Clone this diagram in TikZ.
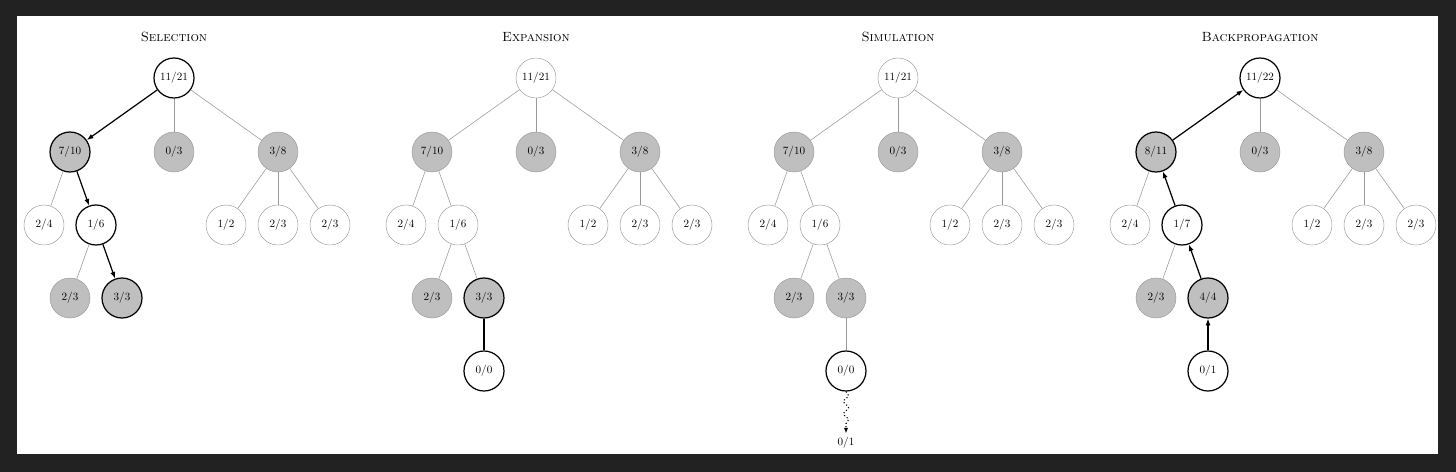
\documentclass[tikz,border=0pt]{standalone}
\usetikzlibrary{arrows.meta}
\usetikzlibrary{decorations.pathmorphing}
\definecolor{frame}{HTML}{222222}
\definecolor{nodegray}{HTML}{BFBFBF}
\definecolor{linegray}{HTML}{999999}

\begin{document}
\begin{tikzpicture}[x=0.9pt,y=-0.9pt,
    vis/.style={circle,draw=linegray,fill=white,minimum size=36pt,inner sep=0pt},
    full/.style={vis,fill=nodegray},
    hot/.style={draw=black,line width=1.1pt},
    tree/.style={linegray,line width=0.5pt},
    walk/.style={black,line width=1.1pt},
    title/.style={font=\large\scshape}]
    \fill[frame](0,0) rectangle (1456,472);
    \fill[white](17,16) rectangle (1438,454);

    % selection
    \begin{scope}[shift={(174,78)}]
    \node[title] (st) at (0,-41) {Selection};
    \node[vis,hot] (s) at (0,0) {11/21};
    \node[full,hot] (sa) at (-104,74) {7/10};
    \node[full] (sb) at (0,74) {0/3};
    \node[full] (sc) at (104,74) {3/8};
    \node[vis] (saa) at (-130,147) {2/4};
    \node[vis,hot] (sab) at (-78,147) {1/6};
    \node[vis] (sca) at (52,147) {1/2};
    \node[vis] (scb) at (104,147) {2/3};
    \node[vis] (scc) at (156,147) {2/3};
    \node[full] (saba) at (-104,220) {2/3};
    \node[full,hot] (sabb) at (-52,220) {3/3};
    \draw[walk,-{Latex[length=6pt]}](s)--(sa);
    \draw[tree](s)--(sb);
    \draw[tree](s)--(sc);
    \draw[tree](sa)--(saa);
    \draw[walk,-{Latex[length=6pt]}](sa)--(sab);
    \draw[tree](sc)--(sca);
    \draw[tree](sc)--(scb);
    \draw[tree](sc)--(scc);
    \draw[tree](sab)--(saba);
    \draw[walk,-{Latex[length=6pt]}](sab)--(sabb);
    \end{scope}

    % expansion
    \begin{scope}[shift={(536,78)}]
    \node[title] (et) at (0,-41) {Expansion};
    \node[vis] (e) at (0,0) {11/21};
    \node[full] (ea) at (-104,74) {7/10};
    \node[full] (eb) at (0,74) {0/3};
    \node[full] (ec) at (104,74) {3/8};
    \node[vis] (eaa) at (-130,147) {2/4};
    \node[vis] (eab) at (-78,147) {1/6};
    \node[vis] (eca) at (52,147) {1/2};
    \node[vis] (ecb) at (104,147) {2/3};
    \node[vis] (ecc) at (156,147) {2/3};
    \node[full] (eaba) at (-104,220) {2/3};
    \node[full,hot] (eabb) at (-52,220) {3/3};
    \node[vis,hot] (eabba) at (-52,293) {0/0};
    \draw[tree](e)--(ea);
    \draw[tree](e)--(eb);
    \draw[tree](e)--(ec);
    \draw[tree](ea)--(eaa);
    \draw[tree](ea)--(eab);
    \draw[tree](ec)--(eca);
    \draw[tree](ec)--(ecb);
    \draw[tree](ec)--(ecc);
    \draw[tree](eab)--(eaba);
    \draw[tree](eab)--(eabb);
    \draw[walk](eabb)--(eabba);
    \end{scope}

    % simulation
    \begin{scope}[shift={(898,78)}]
    \node[title] (mt) at (0,-41) {Simulation};
    \node[vis] (m) at (0,0) {11/21};
    \node[full] (ma) at (-104,74) {7/10};
    \node[full] (mb) at (0,74) {0/3};
    \node[full] (mc) at (104,74) {3/8};
    \node[vis] (maa) at (-130,147) {2/4};
    \node[vis] (mab) at (-78,147) {1/6};
    \node[vis] (mca) at (52,147) {1/2};
    \node[vis] (mcb) at (104,147) {2/3};
    \node[vis] (mcc) at (156,147) {2/3};
    \node[full] (maba) at (-104,220) {2/3};
    \node[full] (mabb) at (-52,220) {3/3};
    \node[vis,hot] (mabba) at (-52,293) {0/0};
    \node (mout) at (-52,365) {0/1};
    \draw[tree](m)--(ma);
    \draw[tree](m)--(mb);
    \draw[tree](m)--(mc);
    \draw[tree](ma)--(maa);
    \draw[tree](ma)--(mab);
    \draw[tree](mc)--(mca);
    \draw[tree](mc)--(mcb);
    \draw[tree](mc)--(mcc);
    \draw[tree](mab)--(maba);
    \draw[tree](mab)--(mabb);
    \draw[tree](mabb)--(mabba);
    \draw[line width=1pt,dotted,-{Latex[length=5pt]},decorate,
        decoration={snake,amplitude=2.2pt,segment length=11pt,post length=6pt}]
        (mabba)--(mout);
    \end{scope}

    % backpropagation
    \begin{scope}[shift={(1260,78)}]
    \node[title] (pt) at (0,-41) {Backpropagation};
    \node[vis,hot] (p) at (0,0) {11/22};
    \node[full,hot] (pa) at (-104,74) {8/11};
    \node[full] (pb) at (0,74) {0/3};
    \node[full] (pc) at (104,74) {3/8};
    \node[vis] (paa) at (-130,147) {2/4};
    \node[vis,hot] (pab) at (-78,147) {1/7};
    \node[vis] (pca) at (52,147) {1/2};
    \node[vis] (pcb) at (104,147) {2/3};
    \node[vis] (pcc) at (156,147) {2/3};
    \node[full] (paba) at (-104,220) {2/3};
    \node[full,hot] (pabb) at (-52,220) {4/4};
    \node[vis,hot] (pabba) at (-52,293) {0/1};
    \draw[walk,-{Latex[length=6pt]}](pa)--(p);
    \draw[tree](p)--(pb);
    \draw[tree](p)--(pc);
    \draw[tree](pa)--(paa);
    \draw[walk,-{Latex[length=6pt]}](pab)--(pa);
    \draw[tree](pc)--(pca);
    \draw[tree](pc)--(pcb);
    \draw[tree](pc)--(pcc);
    \draw[tree](pab)--(paba);
    \draw[walk,-{Latex[length=6pt]}](pabb)--(pab);
    \draw[walk,-{Latex[length=6pt]}](pabba)--(pabb);
    \end{scope}
\end{tikzpicture}
\end{document}
